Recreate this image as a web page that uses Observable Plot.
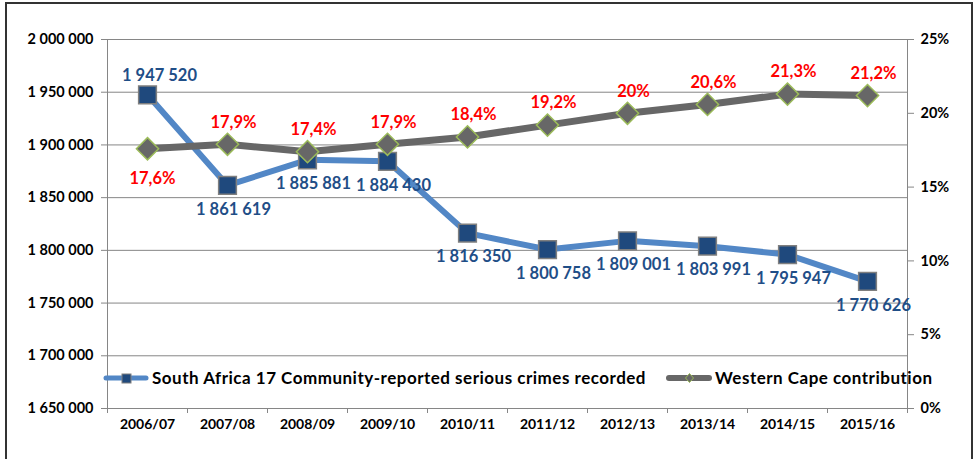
<!DOCTYPE html>
<html>
<head>
<meta charset="utf-8">
<script src="https://cdn.jsdelivr.net/npm/d3@7"></script>
<script src="https://cdn.jsdelivr.net/npm/@observablehq/plot@0.6"></script>
<style>
  html, body { margin: 0; padding: 0; background: #fff; overflow: hidden; }
  #wrap { position: relative; width: 979px; height: 459px; overflow: hidden; font-family: Lato, sans-serif; }
  #chart { position: absolute; left: 0; top: 0; }
  #border { position: absolute; left: 5px; top: 2px; width: 968px; height: 520px; border: 2px solid #333; box-sizing: border-box; pointer-events: none; }
  .leg { position: absolute; top: 367px; display: flex; align-items: center; font: bold 17px Lato, sans-serif; letter-spacing: 0.5px; color: #000; white-space: nowrap; }
  .leg svg { display: block; margin-right: 3px; }
</style>
</head>
<body>
<div id="wrap">
  <div id="chart"></div>
  <div class="leg" id="leg1" style="left:103px"></div>
  <div class="leg" id="leg2" style="left:666px"></div>
  <div id="border"></div>
</div>
<script>
// ---- data ----
const years = ["2006/07","2007/08","2008/09","2009/10","2010/11","2011/12","2012/13","2013/14","2014/15","2015/16"];
const crimesSA = [1947520, 1861619, 1885881, 1884430, 1816350, 1800758, 1809001, 1803991, 1795947, 1770626];
const wcShare = [17.6, 17.9, 17.4, 17.9, 18.4, 19.2, 20, 20.6, 21.3, 21.2];
const crimesLabelSide = ["above","below","below","below","below","below","below","below","below","below"];
const shareLabelSide = ["below","above","above","above","above","above","above","above","above","above"];
const leftTicks = [1650000, 1700000, 1750000, 1800000, 1850000, 1900000, 1950000, 2000000];
const rightTicks = [0, 5, 10, 15, 20, 25];
const seriesNames = ["South Africa 17 Community-reported serious crimes recorded", "Western Cape contribution"];

// ---- helpers ----
const yMin = 1650000, yMax = 2000000, pMax = 25;
const pctToY = p => yMin + p / pMax * (yMax - yMin);
const fmtNum = v => d3.format(",")(v).replace(/,/g, " ");
const fmtPct = p => String(p).replace(".", ",") + "%";

const rows = years.map((yr, i) => ({
  i, yr,
  v: crimesSA[i],
  p: wcShare[i],
  py: pctToY(wcShare[i]),
  vSide: crimesLabelSide[i],
  pSide: shareLabelSide[i]
}));

const blueLine = "#5287c6", blueMark = "#1f497d", blueText = "#1f4e87";
const grayLine = "#676767", olive = "#9bbb59", gridC = "#868686";

const chart = Plot.plot({
  width: 979,
  height: 459,
  marginLeft: 107,
  marginRight: 72,
  marginTop: 39,
  marginBottom: 51,
  style: { fontFamily: "Lato, sans-serif", fontSize: "14px", fontWeight: "bold", background: "transparent", color: "#000" },
  x: { domain: [-0.5, years.length - 0.5], axis: null, label: null },
  y: { domain: [yMin, yMax], axis: null, label: null },
  marks: [
    Plot.gridY(leftTicks, { stroke: gridC, strokeOpacity: 1, strokeWidth: 1 }),
    Plot.ruleX([-0.5, years.length - 0.5], { stroke: gridC, strokeWidth: 1 }),
    Plot.axisY(leftTicks, { anchor: "left", tickSize: 6, tickPadding: 8, stroke: gridC, tickFormat: fmtNum, label: null, fontSize: 14.5 }),
    Plot.axisY(rightTicks.map(pctToY), { anchor: "right", tickSize: 6, tickPadding: 7, stroke: gridC, tickFormat: v => Math.round((v - yMin) / (yMax - yMin) * pMax) + "%", label: null, fontSize: 14.5 }),
    Plot.axisX(d3.range(years.length + 1).map(i => i - 0.5), { anchor: "bottom", tickSize: 5, stroke: gridC, tickFormat: () => "", label: null }),
    Plot.axisX(d3.range(years.length), { anchor: "bottom", tickSize: 0, tickPadding: 11, tickFormat: i => years[i], label: null, fontSize: 14 }),
    // South Africa series
    Plot.line(rows, { x: "i", y: "v", stroke: blueLine, strokeWidth: 6 }),
    Plot.dot(rows, { x: "i", y: "v", symbol: "square", r: 10, fill: blueMark, stroke: "#7f7f7f", strokeWidth: 1.5 }),
    // Western Cape share
    Plot.line(rows, { x: "i", y: "py", stroke: grayLine, strokeWidth: 7 }),
    Plot.dot(rows, { x: "i", y: "py", symbol: "diamond2", r: 10, fill: grayLine, stroke: olive, strokeWidth: 1.5 }),
    // labels
    Plot.text(rows, { filter: d => d.vSide === "above", x: "i", y: "v", text: d => fmtNum(d.v), dx: 12, dy: -19, fill: blueText, fontSize: 16.5, fontWeight: "bold" }),
    Plot.text(rows, { filter: d => d.vSide === "below", x: "i", y: "v", text: d => fmtNum(d.v), dx: 6, dy: 24, fill: blueText, fontSize: 16.5, fontWeight: "bold" }),
    Plot.text(rows, { filter: d => d.pSide === "above", x: "i", y: "py", text: d => fmtPct(d.p), dx: 6, dy: -22, fill: "#ff0000", fontSize: 16.5, fontWeight: "bold" }),
    Plot.text(rows, { filter: d => d.pSide === "below", x: "i", y: "py", text: d => fmtPct(d.p), dx: 5, dy: 30, fill: "#ff0000", fontSize: 16.5, fontWeight: "bold" })
  ]
});
document.getElementById("chart").appendChild(chart);

// ---- legend (inside plot area, as in the reference) ----
function swatch(lineColor, lineW, markerSvg) {
  return `<svg width="46" height="16"><line x1="3" y1="8" x2="43" y2="8" stroke="${lineColor}" stroke-width="${lineW}" stroke-linecap="round"/>${markerSvg}</svg>`;
}
document.getElementById("leg1").innerHTML =
  swatch(blueLine, 5, `<rect x="19" y="4" width="9" height="9" fill="${blueMark}" stroke="#7f7f7f" stroke-width="1"/>`) +
  `<span>${seriesNames[0]}</span>`;
document.getElementById("leg2").innerHTML =
  swatch(grayLine, 6, `<path d="M23.5,3.5 L27.5,8 L23.5,12.5 L19.5,8 Z" fill="${grayLine}" stroke="${olive}" stroke-width="1"/>`) +
  `<span>${seriesNames[1]}</span>`;
</script>
</body>
</html>
